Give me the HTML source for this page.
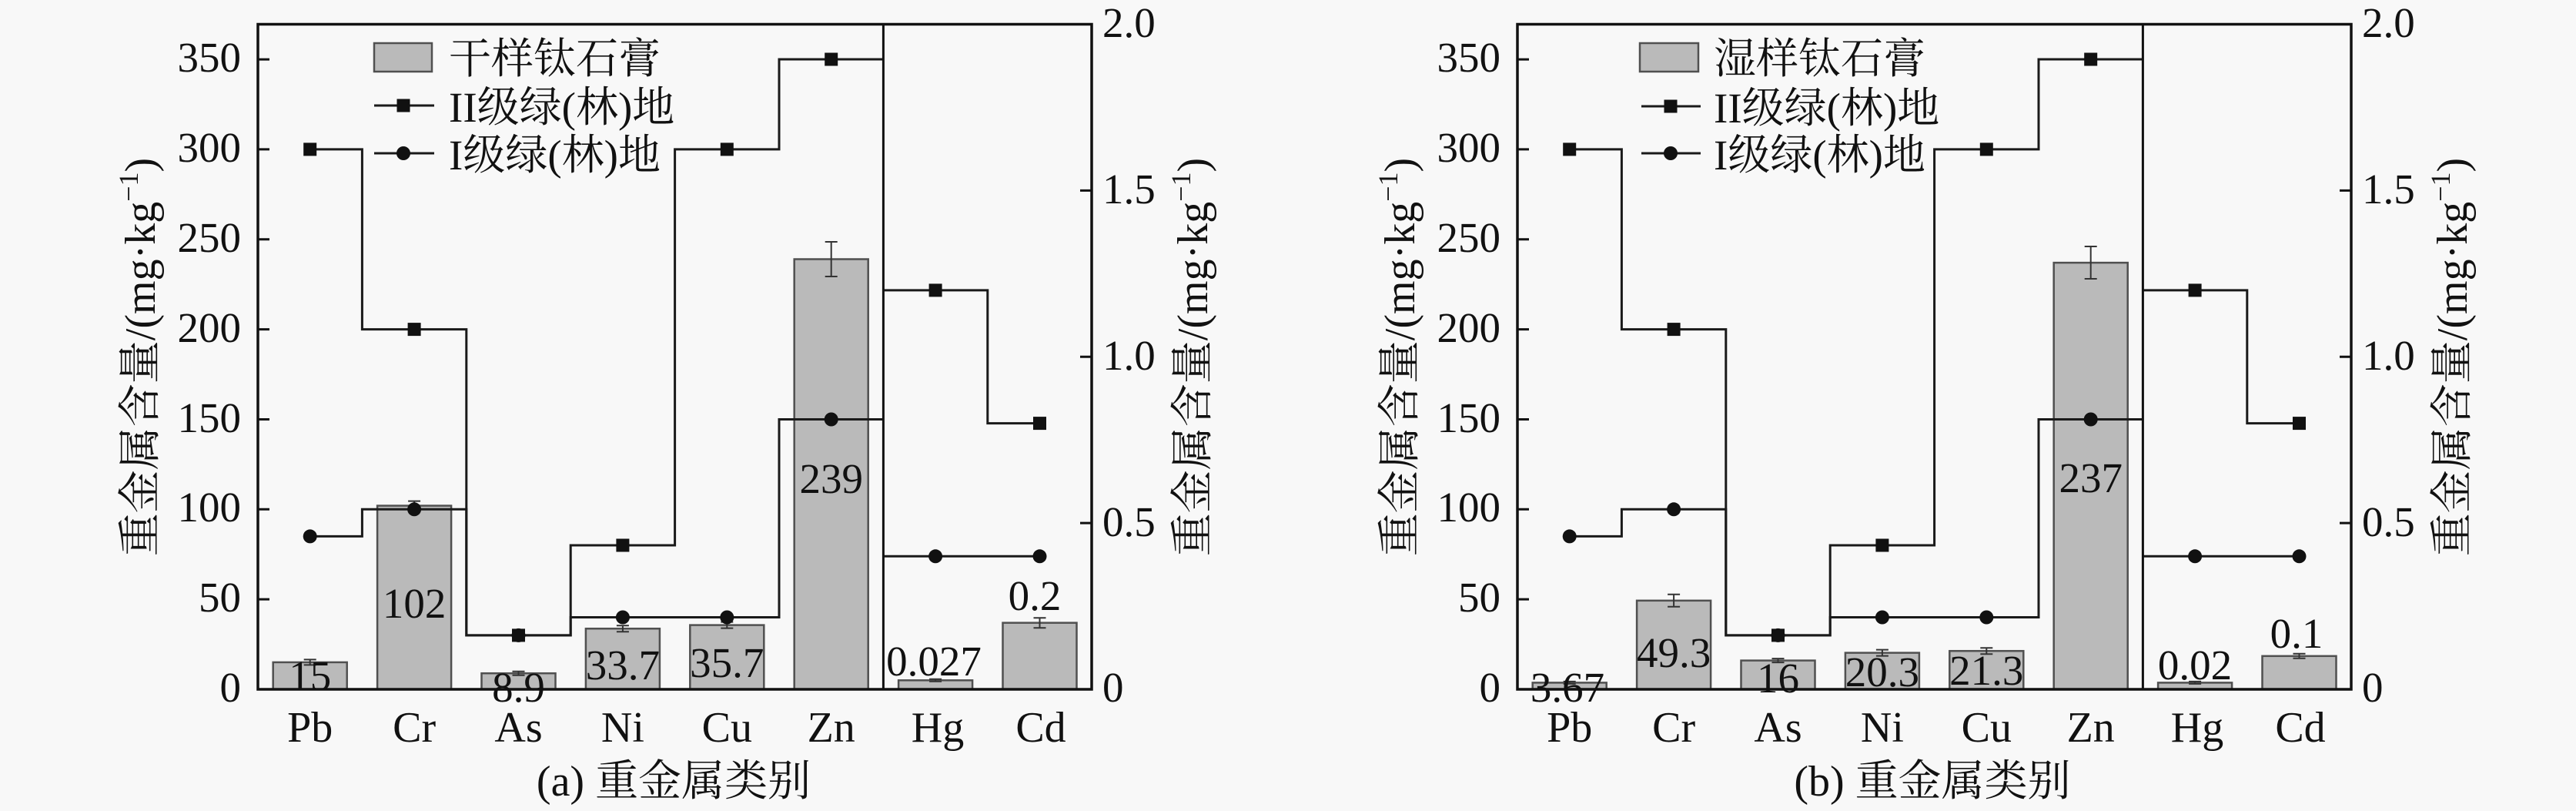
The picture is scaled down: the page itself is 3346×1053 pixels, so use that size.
<!DOCTYPE html>
<html><head><meta charset="utf-8"><style>
html,body{margin:0;padding:0;background:#f8f8f8;}
svg{display:block;}
text{font-family:"Liberation Serif","Noto Serif CJK SC",serif;fill:#111;}
</style></head><body>
<svg width="3346" height="1053" viewBox="0 0 3346 1053" xmlns="http://www.w3.org/2000/svg">
<rect x="0" y="0" width="3346" height="1053" fill="#f8f8f8"/>

<!-- ============ PANEL A ============ -->
<g fill="#bababa" stroke="#505050" stroke-width="2.5">
<rect x="354.7" y="859.9" width="96" height="35.1"/>
<rect x="490.1" y="656.6" width="96" height="238.4"/>
<rect x="625.5" y="874.2" width="96" height="20.8"/>
<rect x="760.9" y="816.2" width="96" height="78.8"/>
<rect x="896.3" y="811.6" width="96" height="83.4"/>
<rect x="1031.7" y="336.5" width="96" height="558.5"/>
<rect x="1167.1" y="883.3" width="96" height="11.7"/>
<rect x="1302.5" y="808.65" width="96" height="86.35"/>
</g>
<g fill="none" stroke="#333" stroke-width="2">
<path d="M394.7 856.4H410.7M402.7 856.4V863.4M394.7 863.4H410.7"/>
<path d="M530.1 650.6H546.1M538.1 650.6V662.6M530.1 662.6H546.1"/>
<path d="M665.5 871.7H681.5M673.5 871.7V876.7M665.5 876.7H681.5"/>
<path d="M800.9 812.2H816.9M808.9 812.2V820.2M800.9 820.2H816.9"/>
<path d="M936.3 807.6H952.3M944.3 807.6V815.6M936.3 815.6H952.3"/>
<path d="M1071.7 314H1087.7M1079.7 314V359M1071.7 359H1087.7"/>
<path d="M1207.1 881.8H1223.1M1215.1 881.8V884.8M1207.1 884.8H1223.1"/>
<path d="M1342.5 802.2H1358.5M1350.5 802.2V815.2M1342.5 815.2H1358.5"/>
</g>
<g fill="none" stroke="#1a1a1a" stroke-width="3">
<path d="M402.7 193.9H470.4V427.6H605.8V824.9H741.2V708H876.6V193.9H1012V77H1147.4"/>
<path d="M1147.4 376.9H1282.8V549.6H1350.5"/>
<path d="M402.7 696.4H470.4V661.3H605.8V824.9H741.2V801.5H1012V544.5H1147.4"/>
<path d="M1147.4 722.3H1350.5"/>
</g>
<g fill="#111">
<circle cx="402.7" cy="696.4" r="9"/><circle cx="538.1" cy="661.3" r="9"/><circle cx="673.5" cy="824.9" r="9"/><circle cx="808.9" cy="801.5" r="9"/><circle cx="944.3" cy="801.5" r="9"/><circle cx="1079.7" cy="544.5" r="9"/><circle cx="1215.1" cy="722.3" r="9"/><circle cx="1350.5" cy="722.3" r="9"/>
<rect x="394.2" y="185.4" width="17" height="17"/><rect x="529.6" y="419.1" width="17" height="17"/><rect x="665" y="816.4" width="17" height="17"/><rect x="800.4" y="699.5" width="17" height="17"/><rect x="935.8" y="185.4" width="17" height="17"/><rect x="1071.2" y="68.5" width="17" height="17"/><rect x="1206.6" y="368.4" width="17" height="17"/><rect x="1342" y="541.1" width="17" height="17"/>
</g>
<g font-size="55" text-anchor="middle">
<text x="402.7" y="896">15</text>
<text x="538.1" y="802">102</text>
<text x="673.5" y="911">8.9</text>
<text x="808.9" y="882">33.7</text>
<text x="944.3" y="879">35.7</text>
<text x="1079.7" y="640">239</text>
<text x="1213" y="877">0.027</text>
<text x="1344" y="792">0.2</text>
</g>
<!-- frame -->
<rect x="335" y="31.5" width="1083" height="863.5" fill="none" stroke="#111" stroke-width="3.5"/>
<line x1="1147.4" y1="31.5" x2="1147.4" y2="895" stroke="#111" stroke-width="3"/>
<g stroke="#111" stroke-width="3">
<path d="M335 778.1H350M335 661.3H350M335 544.5H350M335 427.6H350M335 310.8H350M335 193.9H350M335 77.1H350"/>
<path d="M1418 679.1H1403M1418 463.3H1403M1418 247.4H1403"/>
</g>
<g font-size="55" text-anchor="end">
<text x="313" y="911">0</text><text x="313" y="794">50</text><text x="313" y="677">100</text><text x="313" y="561">150</text><text x="313" y="444">200</text><text x="313" y="327">250</text><text x="313" y="210">300</text><text x="313" y="93">350</text>
</g>
<g font-size="55">
<text x="1432" y="911">0</text><text x="1432" y="696">0.5</text><text x="1432" y="480">1.0</text><text x="1432" y="264">1.5</text><text x="1432" y="48">2.0</text>
</g>
<g font-size="56" text-anchor="middle">
<text x="402.7" y="963">Pb</text><text x="538.1" y="963">Cr</text><text x="673.5" y="963">As</text><text x="808.9" y="963">Ni</text><text x="944.3" y="963">Cu</text><text x="1079.7" y="963">Zn</text><text x="1218" y="963">Hg</text><text x="1352" y="963">Cd</text>
<text x="875" y="1033">(a) 重金属类别</text>
</g>
<text font-size="56" text-anchor="middle" transform="translate(201,463.5) rotate(-90)">重金属含量/(mg·kg<tspan font-size="36" dy="-22">−1</tspan><tspan dy="22">)</tspan></text>
<text font-size="56" text-anchor="middle" transform="translate(1568,463.5) rotate(-90)">重金属含量/(mg·kg<tspan font-size="36" dy="-22">−1</tspan><tspan dy="22">)</tspan></text>
<!-- legend a -->
<rect x="486" y="56" width="75" height="37" fill="#bababa" stroke="#505050" stroke-width="2.5"/>
<text x="583" y="95" font-size="55">干样钛石膏</text>
<line x1="486" y1="137" x2="564" y2="137" stroke="#1a1a1a" stroke-width="3"/>
<rect x="515.5" y="128.5" width="17" height="17" fill="#111"/>
<text x="583" y="158" font-size="55">II级绿(林)地</text>
<line x1="486" y1="199" x2="564" y2="199" stroke="#1a1a1a" stroke-width="3"/>
<circle cx="524" cy="199" r="9" fill="#111"/>
<text x="583" y="220" font-size="55">I级绿(林)地</text>

<!-- ============ PANEL B ============ -->
<g fill="#bababa" stroke="#505050" stroke-width="2.5">
<rect x="1990.7" y="886.4" width="96" height="8.6"/>
<rect x="2126.1" y="779.8" width="96" height="115.2"/>
<rect x="2261.5" y="857.6" width="96" height="37.4"/>
<rect x="2396.9" y="847.6" width="96" height="47.4"/>
<rect x="2532.3" y="845.2" width="96" height="49.8"/>
<rect x="2667.7" y="341.1" width="96" height="553.9"/>
<rect x="2803.1" y="886.4" width="96" height="8.6"/>
<rect x="2938.5" y="851.8" width="96" height="43.2"/>
</g>
<g fill="none" stroke="#333" stroke-width="2">
<path d="M2030.7 884.9H2046.7M2038.7 884.9V887.9M2030.7 887.9H2046.7"/>
<path d="M2166.1 771.8H2182.1M2174.1 771.8V787.8M2166.1 787.8H2182.1"/>
<path d="M2301.5 855.1H2317.5M2309.5 855.1V860.1M2301.5 860.1H2317.5"/>
<path d="M2436.9 843.6H2452.9M2444.9 843.6V851.6M2436.9 851.6H2452.9"/>
<path d="M2572.3 841.2H2588.3M2580.3 841.2V849.2M2572.3 849.2H2588.3"/>
<path d="M2707.7 320H2723.7M2715.7 320V362M2707.7 362H2723.7"/>
<path d="M2843.1 884.9H2859.1M2851.1 884.9V887.9M2843.1 887.9H2859.1"/>
<path d="M2978.5 848.8H2994.5M2986.5 848.8V854.8M2978.5 854.8H2994.5"/>
</g>
<g fill="none" stroke="#1a1a1a" stroke-width="3">
<path d="M2038.7 193.9H2106.4V427.6H2241.8V824.9H2377.2V708H2512.6V193.9H2648V77H2783.4"/>
<path d="M2783.4 376.9H2918.8V549.6H2986.5"/>
<path d="M2038.7 696.4H2106.4V661.3H2241.8V824.9H2377.2V801.5H2648V544.5H2783.4"/>
<path d="M2783.4 722.3H2986.5"/>
</g>
<g fill="#111">
<circle cx="2038.7" cy="696.4" r="9"/><circle cx="2174.1" cy="661.3" r="9"/><circle cx="2309.5" cy="824.9" r="9"/><circle cx="2444.9" cy="801.5" r="9"/><circle cx="2580.3" cy="801.5" r="9"/><circle cx="2715.7" cy="544.5" r="9"/><circle cx="2851.1" cy="722.3" r="9"/><circle cx="2986.5" cy="722.3" r="9"/>
<rect x="2030.2" y="185.4" width="17" height="17"/><rect x="2165.6" y="419.1" width="17" height="17"/><rect x="2301" y="816.4" width="17" height="17"/><rect x="2436.4" y="699.5" width="17" height="17"/><rect x="2571.8" y="185.4" width="17" height="17"/><rect x="2707.2" y="68.5" width="17" height="17"/><rect x="2842.6" y="368.4" width="17" height="17"/><rect x="2978" y="541.1" width="17" height="17"/>
</g>
<g font-size="55" text-anchor="middle">
<text x="2036" y="911">3.67</text>
<text x="2174.1" y="866">49.3</text>
<text x="2309.5" y="899">16</text>
<text x="2444.9" y="891">20.3</text>
<text x="2580.3" y="889">21.3</text>
<text x="2715.7" y="639">237</text>
<text x="2851" y="882">0.02</text>
<text x="2983" y="841">0.1</text>
</g>
<rect x="1971" y="31.5" width="1083" height="863.5" fill="none" stroke="#111" stroke-width="3.5"/>
<line x1="2783.4" y1="31.5" x2="2783.4" y2="895" stroke="#111" stroke-width="3"/>
<g stroke="#111" stroke-width="3">
<path d="M1971 778.1H1986M1971 661.3H1986M1971 544.5H1986M1971 427.6H1986M1971 310.8H1986M1971 193.9H1986M1971 77.1H1986"/>
<path d="M3054 679.1H3039M3054 463.3H3039M3054 247.4H3039"/>
</g>
<g font-size="55" text-anchor="end">
<text x="1949" y="911">0</text><text x="1949" y="794">50</text><text x="1949" y="677">100</text><text x="1949" y="561">150</text><text x="1949" y="444">200</text><text x="1949" y="327">250</text><text x="1949" y="210">300</text><text x="1949" y="93">350</text>
</g>
<g font-size="55">
<text x="3068" y="911">0</text><text x="3068" y="696">0.5</text><text x="3068" y="480">1.0</text><text x="3068" y="264">1.5</text><text x="3068" y="48">2.0</text>
</g>
<g font-size="56" text-anchor="middle">
<text x="2038.7" y="963">Pb</text><text x="2174.1" y="963">Cr</text><text x="2309.5" y="963">As</text><text x="2444.9" y="963">Ni</text><text x="2580.3" y="963">Cu</text><text x="2715.7" y="963">Zn</text><text x="2854" y="963">Hg</text><text x="2988" y="963">Cd</text>
<text x="2510" y="1033">(b) 重金属类别</text>
</g>
<text font-size="56" text-anchor="middle" transform="translate(1837,463.5) rotate(-90)">重金属含量/(mg·kg<tspan font-size="36" dy="-22">−1</tspan><tspan dy="22">)</tspan></text>
<text font-size="56" text-anchor="middle" transform="translate(3204,463.5) rotate(-90)">重金属含量/(mg·kg<tspan font-size="36" dy="-22">−1</tspan><tspan dy="22">)</tspan></text>
<!-- legend b -->
<rect x="2130" y="56" width="76" height="37" fill="#bababa" stroke="#505050" stroke-width="2.5"/>
<text x="2226" y="95" font-size="55">湿样钛石膏</text>
<line x1="2132" y1="138" x2="2209" y2="138" stroke="#1a1a1a" stroke-width="3"/>
<rect x="2161.5" y="129.5" width="17" height="17" fill="#111"/>
<text x="2226" y="159" font-size="55">II级绿(林)地</text>
<line x1="2132" y1="199" x2="2209" y2="199" stroke="#1a1a1a" stroke-width="3"/>
<circle cx="2170" cy="199" r="9" fill="#111"/>
<text x="2226" y="220" font-size="55">I级绿(林)地</text>
</svg>
</body></html>
